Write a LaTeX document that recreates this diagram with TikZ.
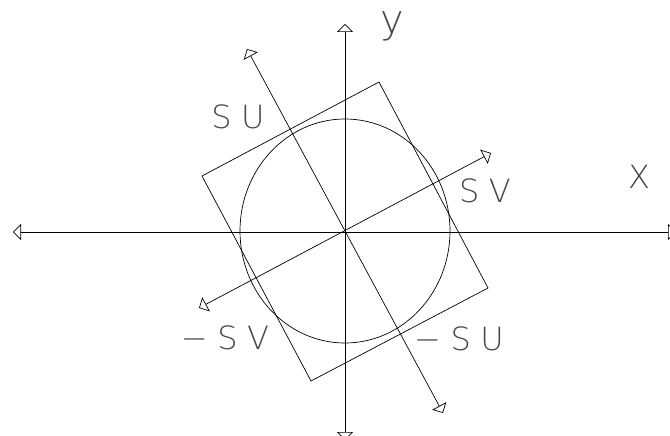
\documentclass[tikz,border=0pt]{standalone}
\usepackage{fontspec}
\newfontfamily\cadfont[LetterSpace=30]{DejaVu Sans ExtraLight}
\usetikzlibrary{calc, arrows.meta, positioning}
\tikzset{
  opentri/.tip={Triangle[open, length=8pt, width=16pt]},
  lbl/.style={text=black!72, inner sep=0pt, font=\cadfont\fontsize{32}{32}\selectfont},
}
\begin{document}
\begin{tikzpicture}[x=1pt, y=-1pt, line width=0.7pt]
      \useasboundingbox (0,0) rectangle (670,436);
      % axes ends
      \coordinate (O) at (345,231);
      \coordinate (xl) at (13,232);
      \coordinate (xr) at (676,232);
      \coordinate (yt) at (345,24);
      \coordinate (yb) at (345,440);
      \coordinate (ut) at (247,49);
      \coordinate (ub) at (443,413);
      \coordinate (vt) at (491,153);
      \coordinate (vb) at (199,308);

      \draw[opentri-opentri] (xl) -- (xr);
      \draw[opentri-opentri] (yb) -- (yt);
      \draw[opentri-opentri] (ub) -- (ut);
      \draw[opentri-opentri] (vb) -- (vt);

      \draw (O) ellipse [x radius=105, y radius=112];
      \draw (202,176) -- (379,82) -- (488,288) -- (311,381) -- cycle;

      \node[lbl, font=\cadfont\fontsize{40}{40}\selectfont] (ly) at (392,26) {y};
      \node[lbl] (lx) at (639,177) {X};
      \node[lbl] (lsu) at (238,117) {SU};
      \node[lbl] (lsv) at (485,191) {SV};
      \node[lbl] (lmsv) at (225,338) {−SV};
      \node[lbl] (lmsu) at (459,339) {−SU};
    \end{tikzpicture}
\end{document}
